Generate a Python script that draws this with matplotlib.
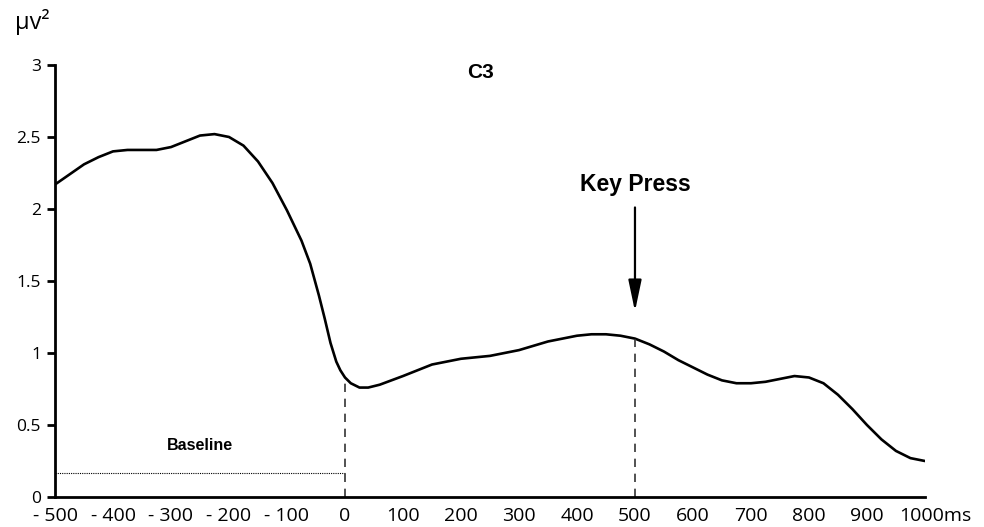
import numpy as np
import matplotlib.pyplot as plt
import matplotlib.transforms as mtransforms

# time (ms) and power (uV^2)
t_ms = [-500, -475, -450, -425, -400, -375, -350, -325, -300, -275,
        -250, -225, -200, -175, -150, -125, -100, -75, -60, -45,
        -35, -25, -15, -8, 0, 10, 25, 40, 60, 80,
        100, 125, 150, 175, 200, 225, 250, 275, 300, 325,
        350, 375, 400, 425, 450, 475, 500, 525, 550, 575,
        600, 625, 650, 675, 700, 725, 750, 775, 800, 825,
        850, 875, 900, 925, 950, 975, 1000]
power = [2.17, 2.24, 2.31, 2.36, 2.40, 2.41, 2.41, 2.41, 2.43, 2.47,
         2.51, 2.52, 2.50, 2.44, 2.33, 2.18, 1.99, 1.78, 1.62, 1.40,
         1.24, 1.07, 0.94, 0.88, 0.83, 0.79, 0.76, 0.76, 0.78, 0.81,
         0.84, 0.88, 0.92, 0.94, 0.96, 0.97, 0.98, 1.00, 1.02, 1.05,
         1.08, 1.10, 1.12, 1.13, 1.13, 1.12, 1.10, 1.06, 1.01, 0.95,
         0.90, 0.85, 0.81, 0.79, 0.79, 0.80, 0.82, 0.84, 0.83, 0.79,
         0.71, 0.61, 0.50, 0.40, 0.32, 0.27, 0.25]

xticks = [-500, -400, -300, -200, -100, 0, 100, 200, 300, 400, 500,
          600, 700, 800, 900, 1000]
xlabels = ['- 500', '- 400', '- 300', '- 200', '- 100', '0', '100', '200',
           '300', '400', '500', '600', '700', '800', '900', '1000ms']
yticks = [0, 0.5, 1, 1.5, 2, 2.5, 3]
ylabels = ['0', '0.5', '1', '1.5', '2', '2.5', '3']

baseline_level = 0.17
key_press_ms = 500

fig = plt.figure(figsize=(9.84, 5.27), dpi=100)
ax = fig.add_axes([0.0559, 0.0569, 0.8841, 0.8198])

ax.plot(t_ms, power, color='black', lw=1.9, solid_joinstyle='round',
        solid_capstyle='round')

# dashed markers at stimulus onset and key press
y0 = np.interp(0, t_ms, power)
y5 = np.interp(key_press_ms, t_ms, power)
ax.plot([0, 0], [0, y0], color='#333333', lw=1.2, ls=(0, (5, 4)))
ax.plot([key_press_ms, key_press_ms], [0, y5], color='#333333', lw=1.2,
        ls=(0, (5, 4)))

# baseline
ax.plot([-500, 0], [baseline_level, baseline_level], color='black', lw=0.8,
        ls=(0, (1, 1)))
ax.text(-250, 0.355, 'Baseline', ha='center', va='center', fontsize=11.5,
        fontweight='bold', family='Liberation Sans')

# key press arrow
ax.annotate('', xy=(key_press_ms, 1.27), xytext=(key_press_ms, 2.03),
            arrowprops=dict(arrowstyle='-|>,head_length=1.9,head_width=0.4',
                            color='black', lw=1.6))
ax.text(key_press_ms, 2.17, 'Key Press', ha='center', va='center',
        fontsize=16.5, fontweight='bold', family='Liberation Sans')
ax.text(233, 2.95, 'C3', ha='center', va='center', fontsize=15,
        fontweight='bold', family='Liberation Sans')

ax.set_xlim(-500, 1000)
ax.set_ylim(0, 3)
for s in ['top', 'right']:
    ax.spines[s].set_visible(False)
for s in ['left', 'bottom']:
    ax.spines[s].set_linewidth(2.0)

ax.set_xticks(xticks)
ax.set_xticklabels(xlabels, family='Open Sans', fontsize=14)
ax.set_yticks(yticks)
ax.set_yticklabels(ylabels, family='Open Sans', fontsize=12.5)
ax.tick_params(axis='x', length=0, pad=7)
ax.tick_params(axis='y', length=6, width=2.0, pad=4)

# "1000ms" sits a bit to the right of its tick
last = ax.get_xticklabels()[-1]
last.set_transform(last.get_transform() +
                   mtransforms.ScaledTranslation(0.1, 0, fig.dpi_scale_trans))

fig.text(0.033, 0.958, 'μv²', ha='center', va='center', fontsize=17,
         family='Open Sans')

fig.savefig('out.png', dpi=100)
